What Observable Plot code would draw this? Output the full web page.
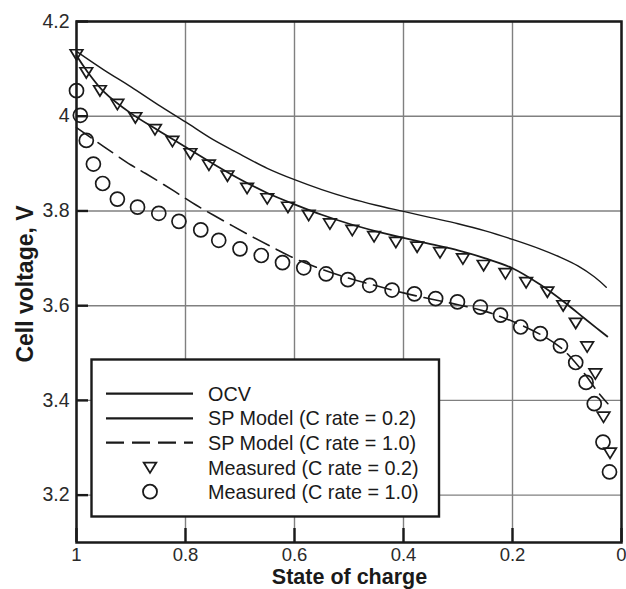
<!DOCTYPE html>
<html><head><meta charset="utf-8">
<script src="https://cdn.jsdelivr.net/npm/d3@7"></script>
<script src="https://cdn.jsdelivr.net/npm/@observablehq/plot@0.6"></script>
<style>
body{margin:0;background:#fff}
#chart{position:relative;width:626px;height:589px;overflow:hidden}
</style>
</head><body><div id="chart"></div>
<script>
// ---- data ----
const xTicks = [1, 0.8, 0.6, 0.4, 0.2, 0];
const yTicks = [4.2, 4.0, 3.8, 3.6, 3.4, 3.2];

const ocvSoc = [1.0, 0.95, 0.9, 0.85, 0.8, 0.75, 0.7, 0.65, 0.6, 0.55, 0.5, 0.45, 0.4, 0.35, 0.3, 0.25, 0.2, 0.15, 0.11, 0.08, 0.05, 0.028];
const ocvV   = [4.137, 4.098, 4.062, 4.024, 3.988, 3.951, 3.920, 3.890, 3.866, 3.845, 3.827, 3.812, 3.799, 3.786, 3.773, 3.758, 3.740, 3.720, 3.701, 3.684, 3.661, 3.639];

const sp02Soc = [1.0, 0.98, 0.95, 0.9, 0.85, 0.8, 0.75, 0.7, 0.65, 0.6, 0.55, 0.5, 0.45, 0.4, 0.35, 0.3, 0.25, 0.2, 0.15, 0.1, 0.07, 0.045, 0.026];
const sp02V   = [4.128, 4.094, 4.052, 4.006, 3.970, 3.935, 3.900, 3.867, 3.838, 3.814, 3.792, 3.773, 3.757, 3.743, 3.730, 3.717, 3.700, 3.679, 3.645, 3.603, 3.575, 3.552, 3.535];

const sp10Soc = [1.0, 0.95, 0.9, 0.873, 0.825, 0.78, 0.73, 0.68, 0.64, 0.6, 0.55, 0.5, 0.45, 0.4, 0.35, 0.3, 0.25, 0.2, 0.15, 0.112, 0.09, 0.065, 0.045, 0.025];
const sp10V   = [3.976, 3.936, 3.897, 3.879, 3.845, 3.812, 3.779, 3.747, 3.723, 3.700, 3.677, 3.658, 3.642, 3.627, 3.614, 3.602, 3.588, 3.567, 3.540, 3.512, 3.487, 3.452, 3.420, 3.393];

const meas02Soc = [1.0, 0.982, 0.957, 0.925, 0.892, 0.856, 0.824, 0.791, 0.757, 0.723, 0.687, 0.650, 0.612, 0.574, 0.535, 0.494, 0.454, 0.414, 0.375, 0.333, 0.291, 0.253, 0.213, 0.175, 0.136, 0.107, 0.084, 0.063, 0.048, 0.033, 0.021];
const meas02V   = [4.130, 4.092, 4.054, 4.025, 3.997, 3.972, 3.947, 3.921, 3.897, 3.874, 3.848, 3.826, 3.808, 3.791, 3.773, 3.759, 3.746, 3.734, 3.724, 3.712, 3.699, 3.685, 3.668, 3.649, 3.629, 3.600, 3.563, 3.513, 3.456, 3.365, 3.289];

const meas10Soc = [1.0, 0.993, 0.982, 0.969, 0.952, 0.925, 0.888, 0.849, 0.812, 0.772, 0.739, 0.700, 0.661, 0.622, 0.583, 0.542, 0.502, 0.462, 0.421, 0.380, 0.341, 0.301, 0.259, 0.222, 0.185, 0.149, 0.112, 0.084, 0.065, 0.050, 0.034, 0.022];
const meas10V   = [4.054, 4.002, 3.949, 3.899, 3.858, 3.825, 3.808, 3.795, 3.778, 3.760, 3.738, 3.720, 3.706, 3.691, 3.680, 3.667, 3.655, 3.643, 3.633, 3.625, 3.615, 3.608, 3.597, 3.580, 3.555, 3.541, 3.515, 3.480, 3.438, 3.393, 3.312, 3.249];

const legendLabels = ["OCV", "SP Model (C rate = 0.2)", "SP Model (C rate = 1.0)", "Measured (C rate = 0.2)", "Measured (C rate = 1.0)"];

// ---- build tables ----
const toRows = (s, v) => s.map((d, i) => ({soc: d, v: v[i]}));
const ocv = toRows(ocvSoc, ocvV);
const sp02 = toRows(sp02Soc, sp02V);
const sp10 = toRows(sp10Soc, sp10V);
const meas02 = toRows(meas02Soc, meas02V);
const meas10 = toRows(meas10Soc, meas10V);

const W = 626, H = 589, mL = 76, mR = 5, mT = 21, mB = 47;
const ink = "#1a1a1a";
const gridC = "#808080";
const font = "'Liberation Sans', Arial, sans-serif";
const xDom = [1, 0], yDom = [3.1, 4.2];
const tickY = 14 * (yDom[1] - yDom[0]) / (H - mT - mB);
const tickX = 12 * (xDom[0] - xDom[1]) / (W - mL - mR);

const triDown = {
  draw(ctx, size) {
    const r = Math.sqrt(size / Math.PI);
    ctx.moveTo(-r, -r * 0.78);
    ctx.lineTo(r, -r * 0.78);
    ctx.lineTo(0, r * 0.85);
    ctx.closePath();
  }
};

const fmt = d => String(+d.toFixed(2));

const chart = Plot.plot({
  width: W, height: H,
  marginLeft: mL, marginRight: mR, marginTop: mT, marginBottom: mB,
  style: {fontFamily: font, fontSize: "19px", color: ink, background: "#fff"},
  x: {domain: xDom},
  y: {domain: yDom},
  marks: [
    Plot.gridX(xTicks, {stroke: gridC, strokeOpacity: 1, strokeWidth: 1.4}),
    Plot.gridY(yTicks, {stroke: gridC, strokeOpacity: 1, strokeWidth: 1.4}),
    Plot.axisX(xTicks, {tickSize: 0, tickPadding: 5, tickFormat: fmt, label: null, fill: "#2a2a2a", fontSize: 18.5}),
    Plot.axisY(yTicks, {tickSize: 0, tickPadding: 7, tickFormat: fmt, label: null, fill: "#2a2a2a", fontSize: 19.5}),
    Plot.ruleX(xTicks, {x: d => d, y1: yDom[0], y2: yDom[0] + tickY, stroke: ink, strokeWidth: 2.4}),
    Plot.ruleY(yTicks, {y: d => d, x1: xDom[0], x2: xDom[0] - tickX, stroke: ink, strokeWidth: 2.4}),
    Plot.line(ocv, {x: "soc", y: "v", stroke: ink, strokeWidth: 1.4, curve: "catmull-rom"}),
    Plot.line(sp02, {x: "soc", y: "v", stroke: ink, strokeWidth: 1.8, curve: "catmull-rom"}),
    Plot.line(sp10, {x: "soc", y: "v", stroke: ink, strokeWidth: 1.6, strokeDasharray: "18,8", curve: "catmull-rom"}),
    Plot.dot(meas02, {x: "soc", y: "v", symbol: triDown, r: 6.3, stroke: ink, fill: "none", strokeWidth: 1.7}),
    Plot.dot(meas10, {x: "soc", y: "v", symbol: "circle", r: 7, stroke: ink, fill: "none", strokeWidth: 1.7}),
    Plot.frame({stroke: ink, strokeWidth: 2.5})
  ]
});
document.getElementById("chart").appendChild(chart);

// ---- axis titles and legend ----
const svg = d3.select(chart);
svg.append("text")
  .attr("x", 349.5).attr("y", 584.3)
  .attr("text-anchor", "middle")
  .attr("font-family", font)
  .attr("font-weight", "bold").attr("font-size", 21.5)
  .attr("fill", ink)
  .text("State of charge");
svg.append("text")
  .attr("transform", "translate(33,284) rotate(-90)")
  .attr("text-anchor", "middle")
  .attr("font-family", font)
  .attr("font-weight", "bold").attr("font-size", 23)
  .attr("fill", ink)
  .text("Cell voltage, V");

const lg = svg.append("g");
lg.append("rect").attr("x", 91.5).attr("y", 359.5).attr("width", 347.5).attr("height", 157)
  .attr("fill", "#fff").attr("stroke", ink).attr("stroke-width", 2.4);
const rowY = [393.7, 418.3, 442.7, 467.5, 491.7];
const styles = [
  {type: "line", w: 2.2, dash: null},
  {type: "line", w: 2.2, dash: null},
  {type: "line", w: 2.2, dash: "18,8"},
  {type: "tri"},
  {type: "circ"}
];
legendLabels.forEach((lab, i) => {
  const y = rowY[i], s = styles[i];
  if (s.type === "line") {
    lg.append("line").attr("x1", 106).attr("x2", 193).attr("y1", y).attr("y2", y)
      .attr("stroke", ink).attr("stroke-width", s.w).attr("stroke-dasharray", s.dash);
  } else if (s.type === "tri") {
    lg.append("path").attr("transform", `translate(150,${y})`)
      .attr("d", d3.symbol(triDown, 6.3 * 6.3 * Math.PI)())
      .attr("fill", "none").attr("stroke", ink).attr("stroke-width", 1.8);
  } else {
    lg.append("circle").attr("cx", 150).attr("cy", y).attr("r", 7)
      .attr("fill", "none").attr("stroke", ink).attr("stroke-width", 1.8);
  }
  lg.append("text").attr("x", 208).attr("y", y).attr("dy", "0.36em")
    .attr("text-anchor", "start")
    .attr("font-family", font)
    .attr("font-size", 19.8).attr("fill", ink)
    .text(lab);
});
</script>
</body></html>
